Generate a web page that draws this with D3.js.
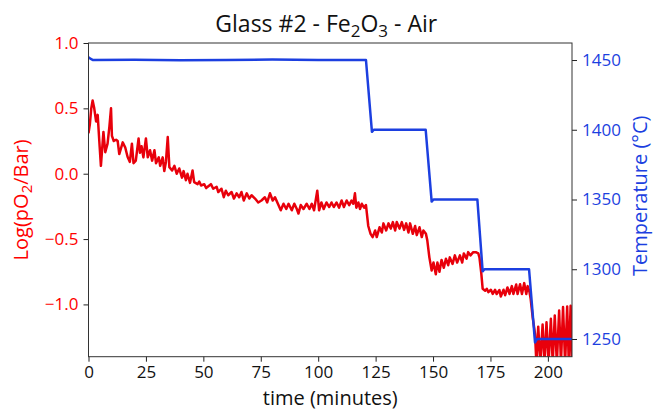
<!DOCTYPE html>
<html>
<head>
<meta charset="utf-8">
<script src="https://cdn.jsdelivr.net/npm/d3@7"></script>
<style>
  body { margin: 0; background: #fff; }
  text { font-family: "Open Sans", "Noto Sans", sans-serif; }
</style>
</head>
<body>
<div id="chart"></div>
<script>
// log(pO2) trace, minutes
var timeO2 = [0, 0.6, 1.2, 1.8, 2.5, 3.3, 4.0, 4.7, 5.4, 6.5, 7.3, 8.3, 9.1, 9.8, 10.2, 11.0, 12.0, 12.7, 13.4, 14.9,
  16.0, 17.0, 18.0, 18.9, 19.6, 20.6, 21.8, 22.4, 23.1, 23.9, 25.0, 25.8, 26.8, 27.7, 28.7, 29.4, 30.6, 31.2, 32.3, 33.0,
  33.7, 34.5, 35.2, 36.4, 37.4, 38.4, 39.5, 40.7, 41.4, 42.4, 43.1, 44.2, 45.3, 46.0, 47.5, 48.2, 49.0, 50.4, 51.2, 51.9,
  53.3, 54.3, 55.8, 56.5, 57.9, 58.9, 59.8, 60.8, 62.3, 63.3, 64.5, 65.6, 66.6, 67.6, 68.9, 70.0, 71.0, 72.5, 73.9, 75.3,
  76.8, 77.8, 79.0, 80.2, 81.2, 82.7, 83.7, 84.9, 86.1, 87.1, 88.5, 89.6, 90.7, 91.4, 92.4, 93.6, 95.0, 96.2, 97.2, 98.2,
  99.6, 100.4, 101.4, 102.4, 103.6, 104.8, 105.8, 106.8, 108.0, 109.1, 110.2, 111.2, 112.4, 113.5, 114.5, 115.3, 116.0, 116.6, 117.5, 118.2,
  119.0, 120.0, 120.8, 121.8, 122.8, 123.7, 124.8, 125.5, 126.7, 127.7, 128.4, 129.6, 130.6, 131.6, 132.5, 133.5, 134.2, 135.4, 136.4, 137.4,
  138.3, 139.3, 140.0, 141.2, 142.2, 142.9, 144.1, 145.1, 145.8, 146.9, 147.5, 148.4, 149.4, 150.2, 151.2, 151.9, 152.8, 153.7, 154.7, 155.6,
  156.6, 157.3, 158.5, 159.5, 160.5, 161.7, 162.7, 163.4, 164.6, 165.3, 166.3, 167.5, 168.6, 169.7, 170.2, 171.0, 171.6, 172.7, 173.4, 174.1,
  175.2, 176.0, 177.0, 177.7, 178.9, 179.5, 180.7, 181.4, 182.4, 183.3, 184.3, 185.0, 186.2, 186.8, 187.9, 188.7, 189.7, 190.6, 191.2, 192.0,
  192.5, 193.4, 194.4, 195.0, 195.8, 196.7, 197.7, 198.5, 199.4, 200.3, 201.3, 202.1, 203.0, 203.9, 204.9, 205.7, 206.6, 207.5, 208.4, 209.1,
  209.9, 210.5];
var logPO2 = [0.31, 0.38, 0.50, 0.56, 0.50, 0.40, 0.45, 0.25, 0.06, 0.32, 0.165, 0.23, 0.36, 0.50, 0.29, 0.25, 0.26, 0.25, 0.15, 0.24,
  0.20, 0.13, 0.09, 0.23, 0.08, 0.10, 0.27, 0.16, 0.21, 0.125, 0.27, 0.125, 0.18, 0.10, 0.18, 0.08, 0.125, 0.06, 0.125, 0.02,
  0.09, 0.28, 0.05, 0.025, 0.06, 0.0, 0.04, -0.03, 0.02, -0.05, 0.0, -0.07, 0.025, -0.065, -0.08, -0.06, -0.09, -0.08, -0.11, -0.10,
  -0.08, -0.115, -0.10, -0.14, -0.115, -0.18, -0.13, -0.165, -0.14, -0.19, -0.15, -0.18, -0.14, -0.205, -0.15, -0.19, -0.165, -0.19, -0.22, -0.205,
  -0.18, -0.22, -0.15, -0.205, -0.18, -0.24, -0.28, -0.23, -0.27, -0.23, -0.28, -0.23, -0.27, -0.305, -0.24, -0.27, -0.23, -0.27, -0.23, -0.28,
  -0.13, -0.28, -0.22, -0.27, -0.22, -0.255, -0.22, -0.255, -0.22, -0.26, -0.205, -0.255, -0.205, -0.24, -0.205, -0.23, -0.15, -0.26, -0.22, -0.27,
  -0.23, -0.26, -0.24, -0.40, -0.46, -0.485, -0.434, -0.485, -0.41, -0.45, -0.38, -0.434, -0.38, -0.42, -0.37, -0.434, -0.37, -0.42, -0.37, -0.43,
  -0.38, -0.45, -0.38, -0.46, -0.40, -0.47, -0.41, -0.485, -0.434, -0.46, -0.51, -0.64, -0.74, -0.68, -0.77, -0.68, -0.75, -0.66, -0.72, -0.65,
  -0.70, -0.64, -0.69, -0.625, -0.68, -0.625, -0.68, -0.61, -0.65, -0.60, -0.625, -0.60, -0.60, -0.61, -0.64, -0.76, -0.88, -0.895, -0.88, -0.906,
  -0.888, -0.92, -0.888, -0.92, -0.89, -0.94, -0.888, -0.93, -0.87, -0.92, -0.86, -0.92, -0.848, -0.92, -0.845, -0.92, -0.837, -0.92, -0.86, -0.905,
  -0.957, -1.10, -1.225, -1.45, -1.17, -1.45, -1.154, -1.45, -1.136, -1.45, -1.11, -1.45, -1.085, -1.45, -1.047, -1.45, -1.02, -1.45, -1.016, -1.45,
  -1.01, -1.45];

// furnace temperature, minutes / deg C
var timeT = [0, 0.8, 2, 20, 40, 60, 80, 100, 120.8, 123.4, 124.2, 146.8, 149.4, 150.2, 169.3, 171.6, 172.4, 191.8, 194.4, 195.3, 210.5];
var tempC = [1452, 1451, 1450, 1450.2, 1449.8, 1450, 1450.3, 1450, 1450, 1398.5, 1400, 1400, 1348.5, 1350, 1350, 1298.5, 1300, 1300, 1247.5, 1250, 1250];

var xTicks = [0, 25, 50, 75, 100, 125, 150, 175, 200];
var leftTicks = [-1.0, -0.5, 0.0, 0.5, 1.0];
var rightTicks = [1250, 1300, 1350, 1400, 1450];

var svgWidth = 653;
var svgHeight = 411;
var margin = { top: 43, right: 81, bottom: 54.3, left: 88.5 };
var width = svgWidth - margin.left - margin.right;
var height = svgHeight - margin.top - margin.bottom;

var red = "#e8000b";
var blue = "#1c3fe0";

var svg = d3.select("#chart").append("svg")
  .attr("width", svgWidth)
  .attr("height", svgHeight);

var chartGroup = svg.append("g")
  .attr("transform", `translate(${margin.left}, ${margin.top})`);

var xScale = d3.scaleLinear().domain([0, 210.5]).range([0, width]);
var yLeft = d3.scaleLinear().domain([-1.4, 1.0]).range([height, 0]);
var yRight = d3.scaleLinear().domain([1237.3, 1462.2]).range([height, 0]);

svg.append("defs").append("clipPath").attr("id", "clip")
  .append("rect").attr("width", width).attr("height", height);

var plot = chartGroup.append("g").attr("clip-path", "url(#clip)");

var o2Line = d3.line()
  .x((d, i) => xScale(timeO2[i]))
  .y(d => yLeft(d));
var tLine = d3.line()
  .x((d, i) => xScale(timeT[i]))
  .y(d => yRight(d));

plot.append("path")
  .datum(logPO2)
  .attr("d", o2Line)
  .attr("fill", "none")
  .attr("stroke", red)
  .attr("stroke-width", 2.5)
  .attr("stroke-linejoin", "round");

plot.append("path")
  .datum(tempC)
  .attr("d", tLine)
  .attr("fill", "none")
  .attr("stroke", blue)
  .attr("stroke-width", 2.5)
  .attr("stroke-linejoin", "round");

// axes
var bottomAxis = d3.axisBottom(xScale).tickValues(xTicks).tickSize(5).tickPadding(4).tickFormat(d3.format("d"));
var leftAxis = d3.axisLeft(yLeft).tickValues(leftTicks).tickSize(5).tickPadding(5)
  .tickFormat(d => d3.format(".1f")(d).replace("-", "\u2212"));
var rightAxis = d3.axisRight(yRight).tickValues(rightTicks).tickSize(5).tickPadding(5).tickFormat(d3.format("d"));

var gx = chartGroup.append("g").attr("transform", `translate(0, ${height})`).call(bottomAxis);
var gl = chartGroup.append("g").call(leftAxis);
var gr = chartGroup.append("g").attr("transform", `translate(${width}, 0)`).call(rightAxis);

[gx, gl, gr].forEach(g => {
  g.select(".domain").remove();
  g.selectAll("line").attr("stroke", "#222");
  g.selectAll("text").attr("font-size", "17px").attr("font-family", "Open Sans, sans-serif");
});
gx.selectAll("text").attr("fill", "#111");
gl.selectAll("text").attr("fill", "#ff0000");
gr.selectAll("text").attr("fill", blue);

// frame
chartGroup.append("rect")
  .attr("width", width)
  .attr("height", height)
  .attr("fill", "none")
  .attr("stroke", "#333")
  .attr("stroke-width", 1);

// title
var title = svg.append("text")
  .attr("x", margin.left + width / 2 - 4)
  .attr("y", 32)
  .attr("text-anchor", "middle")
  .attr("font-size", "23px")
  .attr("fill", "#111");
title.append("tspan").text("Glass #2 - Fe");
title.append("tspan").attr("font-size", "17px").attr("dy", 5).text("2");
title.append("tspan").attr("dy", -5).text("O");
title.append("tspan").attr("font-size", "17px").attr("dy", 5).text("3");
title.append("tspan").attr("dy", -5).text(" - Air");

// axis labels
svg.append("text")
  .attr("x", margin.left + width / 2)
  .attr("y", 405)
  .attr("text-anchor", "middle")
  .attr("font-size", "20px")
  .attr("fill", "#111")
  .text("time (minutes)");

var yl = svg.append("text")
  .attr("transform", `translate(28, ${margin.top + height / 2}) rotate(-90)`)
  .attr("text-anchor", "middle")
  .attr("font-size", "20px")
  .attr("fill", "#ff0000");
yl.append("tspan").text("Log(pO");
yl.append("tspan").attr("font-size", "15px").attr("dy", 4).text("2");
yl.append("tspan").attr("dy", -4).text("/Bar)");

svg.append("text")
  .attr("transform", `translate(647, ${margin.top + height / 2 - 4}) rotate(-90)`)
  .attr("text-anchor", "middle")
  .attr("font-size", "20px")
  .attr("fill", blue)
  .text("Temperature (\u00b0C)");
</script>
</body>
</html>
